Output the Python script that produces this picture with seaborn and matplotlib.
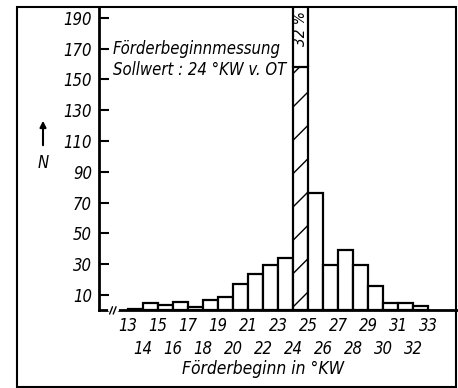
import matplotlib
matplotlib.use("Agg")
import matplotlib.pyplot as plt
import seaborn as sns
import numpy as np
import pandas as pd
from matplotlib.patches import Rectangle

# ---- data ----
bin_edges = list(range(13, 34))            # class limits, °KW
counts = [1, 5, 3.3, 5.4, 2, 6.5, 8.7, 17.3, 23.8, 29.2, 34,
          158, 76, 29.7, 39, 29.7, 15.8, 5, 5, 2.8]
y_ticks = [10, 30, 50, 70, 90, 110, 130, 150, 170, 190]
x_label = "Förderbeginn in °KW"
y_label = "N"
note_lines = ["Förderbeginnmessung", "Sollwert : 24 °KW v. OT"]
peak_label = "32 %"

# ---- style ----
sns.set_theme(style="white")
plt.rcParams['font.family'] = ['DejaVu Sans']
plt.rcParams['font.style'] = 'italic'
plt.rcParams['font.stretch'] = 'condensed'
plt.rcParams['hatch.linewidth'] = 1.0
plt.rcParams['hatch.color'] = 'black'

W, H = 458, 388
fig = plt.figure(figsize=(W / 100, H / 100), dpi=100)
x0, x1, yb, yt = 99, 457, 310.4, 7
ax = fig.add_axes([x0 / W, 1 - yb / H, (x1 - x0) / W, (yb - yt) / H])

df = pd.DataFrame({"x": [e + 0.5 for e in bin_edges[:-1]], "n": counts})
sns.histplot(data=df, x="x", weights="n", bins=bin_edges, color="white",
             edgecolor="black", linewidth=1.6, alpha=1, ax=ax)

ymax = 197
ax.set_xlim(11.07, 34.9)
ax.set_ylim(0, ymax)

idx = int(np.argmax(counts))
ax.patches[idx].set_hatch('/')
ax.vlines([bin_edges[idx], bin_edges[idx + 1]], counts[idx], ymax,
          color="black", lw=1.6)
ax.text(bin_edges[idx] + 0.5, 183, peak_label, rotation=90, ha="center",
        va="center", fontsize=11, color="black")

# notes
ax.text(12.0, 170, note_lines[0], ha="left", va="center", fontsize=12, color="black")
ax.text(12.0, 156, note_lines[1], ha="left", va="center", fontsize=12, color="black")

# axes styling
for s in ["top", "right"]:
    ax.spines[s].set_visible(False)
for s in ["left", "bottom"]:
    ax.spines[s].set_color("black")
    ax.spines[s].set_linewidth(2)

ax.set_yticks(y_ticks)
ax.set_yticklabels([str(v) for v in y_ticks])
ax.tick_params(axis="y", left=True, direction="in", length=7.5, width=1.5,
               pad=5, labelsize=12, colors="black")
odd = [v for v in bin_edges if v % 2]
even = [v for v in bin_edges if not v % 2]
ax.set_xticks(odd)
ax.set_xticklabels([str(v) for v in odd])
ax.set_xticks(even, minor=True)
ax.set_xticklabels([str(v) for v in even], minor=True)
ax.tick_params(axis="x", which="major", bottom=True, length=0, pad=5,
               labelsize=12, colors="black")
ax.tick_params(axis="x", which="minor", bottom=True, length=0, pad=21,
               labelsize=12, colors="black")
ax.set_ylabel("")
ax.set_xlabel(x_label, fontsize=12.5, color="black")
ax.xaxis.set_label_coords(0.458, -0.163)

# axis break on baseline
bx0, bx1 = (110 - x0) / (x1 - x0), (117 - x0) / (x1 - x0)
ax.plot([bx0, bx1], [0, 0], transform=ax.transAxes, color="white", lw=3,
        clip_on=False, zorder=5)
for bx in (bx0 + 0.003, bx0 + 0.013):
    ax.plot([bx - 0.004, bx + 0.004], [-0.012, 0.012], transform=ax.transAxes,
            color="black", lw=1, clip_on=False, zorder=6)

# y label: arrow and N
ax.annotate("", xy=(43 / W, 1 - 118 / H), xytext=(43 / W, 1 - 148 / H),
            xycoords="figure fraction", textcoords="figure fraction",
            arrowprops=dict(arrowstyle="-|>", lw=1.5, color="black",
                            mutation_scale=9))
fig.text(43 / W, 1 - 163 / H, y_label, ha="center", va="center",
         fontsize=12, color="black")

# outer frame
fig.patches.append(Rectangle((17 / W, 1 - 387 / H), (456 - 17) / W, (387 - 7) / H,
                             transform=fig.transFigure, fill=False,
                             edgecolor="black", lw=1.5))

fig.savefig("out.png", dpi=100)
